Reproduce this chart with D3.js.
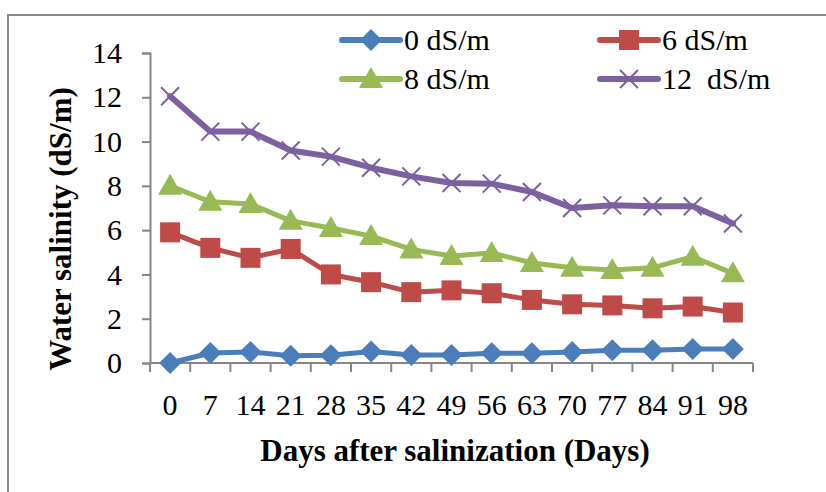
<!DOCTYPE html>
<html>
<head>
<meta charset="utf-8">
<script src="https://cdn.jsdelivr.net/npm/d3@7"></script>
<style>
  html, body { margin: 0; padding: 0; background: #fff; }
  svg { display: block; }
  svg text { font-family: "Liberation Serif", "Times New Roman", serif !important; white-space: pre; }
</style>
</head>
<body>
<svg id="chart" width="826" height="492"></svg>
<script>
// Sampling days and measured water salinity (dS/m) per treatment
const days = [0, 7, 14, 21, 28, 35, 42, 49, 56, 63, 70, 77, 84, 91, 98];
const yTicks = [0, 2, 4, 6, 8, 10, 12, 14];

const s0  = [0, 0.45, 0.5, 0.33, 0.35, 0.52, 0.36, 0.36, 0.44, 0.44, 0.5, 0.58, 0.58, 0.63, 0.63];
const s6  = [5.9, 5.2, 4.75, 5.15, 4.0, 3.65, 3.2, 3.28, 3.15, 2.85, 2.65, 2.6, 2.47, 2.55, 2.28];
const s8  = [8.0, 7.28, 7.18, 6.42, 6.1, 5.73, 5.13, 4.83, 4.97, 4.52, 4.3, 4.2, 4.3, 4.8, 4.05];
const s12 = [12.05, 10.45, 10.45, 9.6, 9.32, 8.82, 8.43, 8.13, 8.1, 7.72, 7.0, 7.12, 7.08, 7.08, 6.3];

const seriesNames = ["0 dS/m", "6 dS/m", "8 dS/m", "12  dS/m"];
const seriesColors = ["#4a7ebb", "#be4b48", "#98b954", "#7d60a0"];
const seriesShapes = ["diamond", "square", "triangle", "cross"];
const seriesValues = [s0, s6, s8, s12];

const svg = d3.select("#chart");

// chart-area border
svg.append("rect")
  .attr("x", 8).attr("y", 15)
  .attr("width", 900).attr("height", 600)
  .attr("fill", "none").attr("stroke", "#888").attr("stroke-width", 2);

const plot = { left: 150, right: 753, top: 53, bottom: 363 };

const x = d3.scaleBand().domain(days).range([plot.left, plot.right]).padding(0);
const y = d3.scaleLinear().domain([0, 14]).range([plot.bottom, plot.top]);

const axisColor = "#868686";

// y axis
const yAxis = svg.append("g")
  .attr("transform", `translate(${plot.left},0)`)
  .call(d3.axisLeft(y).tickValues(yTicks).tickSize(8).tickPadding(20).tickFormat(d3.format("d")));
yAxis.attr("font-family", null).attr("font-size", null);
yAxis.select(".domain").attr("stroke", axisColor).attr("stroke-width", 2);
yAxis.selectAll(".tick line").attr("stroke", axisColor).attr("stroke-width", 2);
yAxis.selectAll(".tick text")
  .attr("fill", "#000").attr("font-size", 30);

// x axis: ticks on category boundaries, labels at category centers
const xAxisG = svg.append("g").attr("transform", `translate(0,${plot.bottom})`);
xAxisG.append("line")
  .attr("x1", plot.left).attr("x2", plot.right)
  .attr("stroke", axisColor).attr("stroke-width", 2);
const boundaries = days.map(d => x(d)).concat([x(days[days.length - 1]) + x.bandwidth()]);
xAxisG.selectAll("line.tk").data(boundaries).join("line")
  .attr("class", "tk")
  .attr("x1", d => d).attr("x2", d => d)
  .attr("y1", 0).attr("y2", 9)
  .attr("stroke", axisColor).attr("stroke-width", 2);
xAxisG.selectAll("text").data(days).join("text")
  .attr("x", d => x(d) + x.bandwidth() / 2)
  .attr("y", 52)
  .attr("text-anchor", "middle")
  .attr("font-size", 30)
  .attr("fill", "#000")
  .text(d => d);

// axis titles
svg.append("text")
  .attr("transform", `translate(71,229) rotate(-90)`)
  .attr("text-anchor", "middle")
  .attr("font-size", 31).attr("font-weight", "bold")
  .text("Water salinity (dS/m)");

svg.append("text")
  .attr("x", 455).attr("y", 461)
  .attr("text-anchor", "middle")
  .attr("font-size", 31).attr("font-weight", "bold")
  .text("Days after salinization (Days)");

// marker symbols
function drawMarker(g, shape, color, cx, cy) {
  if (shape === "diamond") {
    g.append("path")
      .attr("d", `M${cx},${cy - 11}L${cx + 11},${cy}L${cx},${cy + 11}L${cx - 11},${cy}Z`)
      .attr("fill", color);
  } else if (shape === "square") {
    g.append("rect")
      .attr("x", cx - 10).attr("y", cy - 10).attr("width", 20).attr("height", 20)
      .attr("fill", color);
  } else if (shape === "triangle") {
    g.append("path")
      .attr("d", `M${cx},${cy - 12}L${cx + 12},${cy + 9}L${cx - 12},${cy + 9}Z`)
      .attr("fill", color);
  } else {
    g.append("path")
      .attr("d", `M${cx - 9},${cy - 9}L${cx + 9},${cy + 9}M${cx - 9},${cy + 9}L${cx + 9},${cy - 9}`)
      .attr("stroke", color).attr("stroke-width", 2).attr("fill", "none");
  }
}

// series lines + markers
const line = d3.line()
  .x((d, i) => x(days[i]) + x.bandwidth() / 2)
  .y(d => y(d));

seriesValues.forEach((vals, k) => {
  const g = svg.append("g");
  g.append("path")
    .attr("d", line(vals))
    .attr("fill", "none")
    .attr("stroke", seriesColors[k])
    .attr("stroke-width", k === 3 ? 6 : 5)
    .attr("stroke-linejoin", "round")
    .attr("stroke-linecap", "round");
  vals.forEach((v, i) => drawMarker(g, seriesShapes[k], seriesColors[k], x(days[i]) + x.bandwidth() / 2, y(v)));
});

// legend (two columns, two rows)
const legendPos = [
  { x: 342, y: 40 }, { x: 600, y: 40 },
  { x: 342, y: 79 }, { x: 600, y: 79 }
];
seriesNames.forEach((name, k) => {
  const p = legendPos[k];
  const g = svg.append("g");
  g.append("line")
    .attr("x1", p.x).attr("x2", p.x + 58)
    .attr("y1", p.y).attr("y2", p.y)
    .attr("stroke", seriesColors[k]).attr("stroke-width", 6)
    .attr("stroke-linecap", "round");
  drawMarker(g, seriesShapes[k], seriesColors[k], p.x + 29, p.y);
  g.append("text")
    .attr("x", p.x + 62).attr("y", p.y + 10)
    .attr("font-size", 30)
    .attr("fill", "#000")
    .text(name);
});
</script>
</body>
</html>
